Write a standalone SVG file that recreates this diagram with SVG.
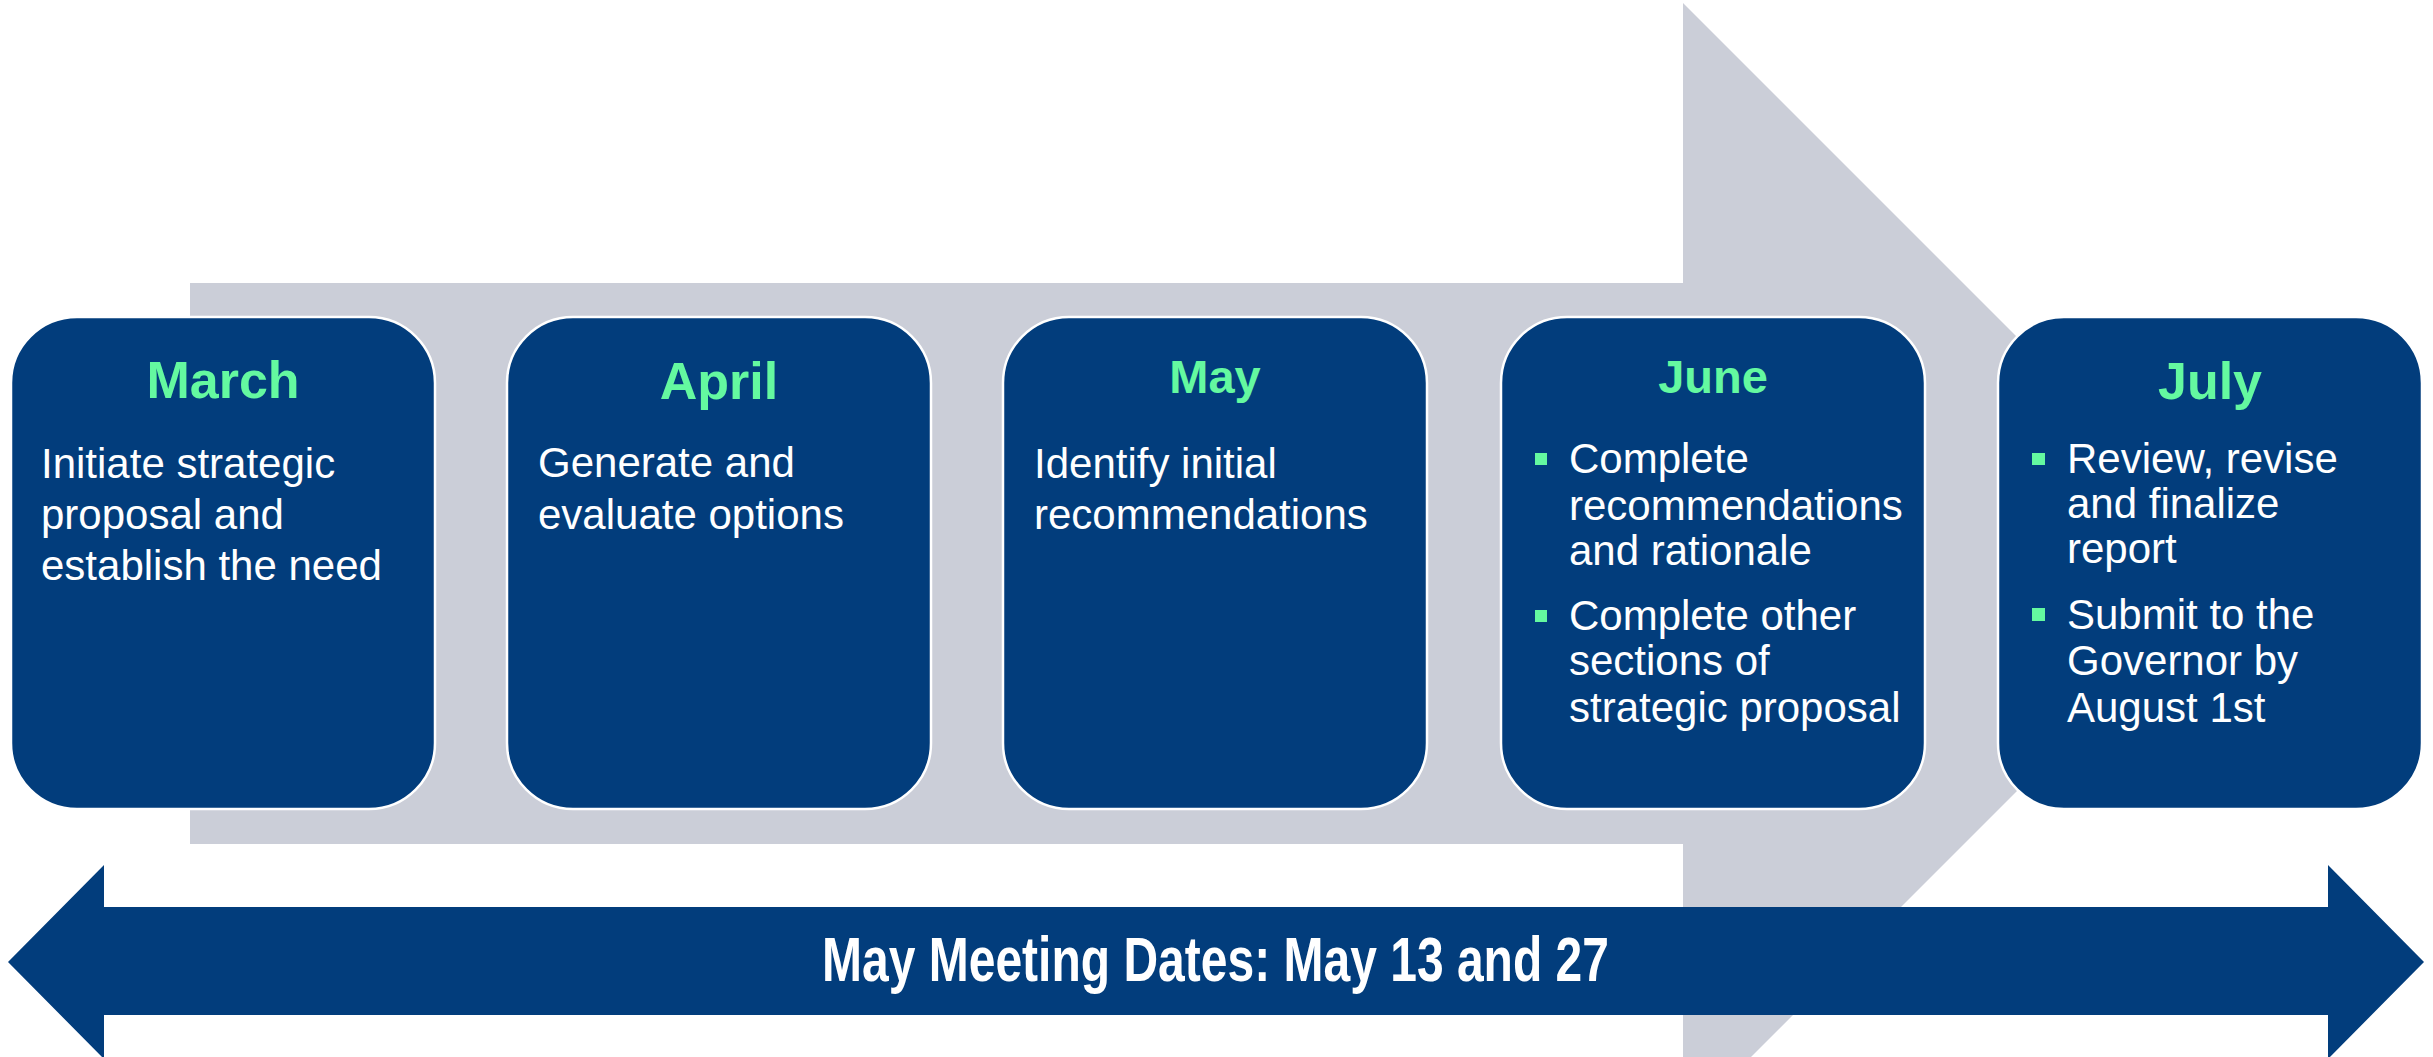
<svg xmlns="http://www.w3.org/2000/svg" width="2433" height="1057" viewBox="0 0 2433 1057">
<style>
.box{fill:#023D7C;stroke:#FFFFFF;stroke-width:2.5}
.ttl{font-family:"Liberation Sans",Arial,sans-serif;font-weight:bold;fill:#64F9A0;text-anchor:middle}
.bd{font-family:"Liberation Sans",Arial,sans-serif;font-size:42px;fill:#FFFFFF}
.bul{fill:#64F9A0}
</style>
<rect width="2433" height="1057" fill="#FFFFFF"/>
<g id="connectors">
<path id="big-arrow" d="M190,283 H1683 V3 L2244,564 L1683,1125 V844 H190 Z" fill="#CBCED8"/>
</g>
<g id="march">
<rect class="box" x="11" y="317" width="424" height="492" rx="66"/>
<text class="ttl" x="223" y="398" font-size="52">March</text>
<text class="bd" x="41"><tspan x="41" y="478">Initiate strategic</tspan><tspan x="41" y="529">proposal and</tspan><tspan x="41" y="580">establish the need</tspan></text>
</g>
<g id="april">
<rect class="box" x="507" y="317" width="424" height="492" rx="66"/>
<text class="ttl" x="719" y="399" font-size="52">April</text>
<text class="bd"><tspan x="538" y="477">Generate and</tspan><tspan x="538" y="529">evaluate options</tspan></text>
</g>
<g id="may">
<rect class="box" x="1003" y="317" width="424" height="492" rx="66"/>
<text class="ttl" x="1215" y="393" font-size="47">May</text>
<text class="bd"><tspan x="1034" y="478">Identify initial</tspan><tspan x="1034" y="529">recommendations</tspan></text>
</g>
<g id="june">
<rect class="box" x="1501" y="317" width="424" height="492" rx="66"/>
<text class="ttl" x="1713" y="393" font-size="47">June</text>
<rect class="bul" x="1535" y="453" width="12" height="12"/>
<rect class="bul" x="1535" y="610" width="12" height="12"/>
<text class="bd"><tspan x="1569" y="473">Complete</tspan><tspan x="1569" y="520">recommendations</tspan><tspan x="1569" y="565">and rationale</tspan><tspan x="1569" y="630">Complete other</tspan><tspan x="1569" y="675">sections of</tspan><tspan x="1569" y="722">strategic proposal</tspan></text>
</g>
<g id="july">
<rect class="box" x="1998" y="317" width="424" height="492" rx="66"/>
<text class="ttl" x="2210" y="399" font-size="52">July</text>
<rect class="bul" x="2032" y="453" width="13" height="12"/>
<rect class="bul" x="2032" y="608" width="13" height="13"/>
<text class="bd"><tspan x="2067" y="473">Review, revise</tspan><tspan x="2067" y="518">and finalize</tspan><tspan x="2067" y="563">report</tspan><tspan x="2067" y="629">Submit to the</tspan><tspan x="2067" y="675">Governor by</tspan><tspan x="2067" y="722">August 1st</tspan></text>
</g>
<g id="meeting-dates">
<path d="M8,962 L104,865 V907 H2328 V865 L2424,962 L2328,1059 V1015 H104 V1059 Z" fill="#023D7C"/>
<text x="1215.5" y="981" font-family="'Liberation Sans',Arial,sans-serif" font-weight="bold" font-size="63" fill="#FFFFFF" text-anchor="middle" textLength="787" lengthAdjust="spacingAndGlyphs">May Meeting Dates: May 13 and 27</text>
</g>
</svg>
